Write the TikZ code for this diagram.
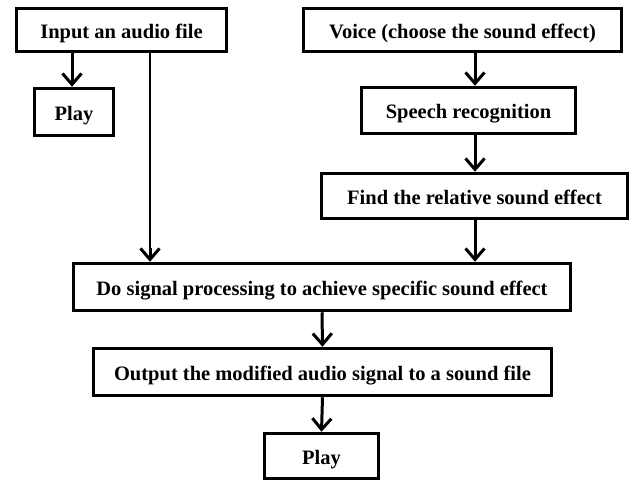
\documentclass[tikz,border=0pt]{standalone}
\usepackage{fontspec}
\setmainfont{Liberation Serif}
\usetikzlibrary{arrows.meta}
\tikzset{
  box/.style={draw=black, line width=3.5pt, fill=white, inner sep=0pt, align=center,
    text height=16pt, text depth=0pt,
    font=\fontsize{20.5}{24}\selectfont\bfseries},
  flow/.style={line width=3pt, -{Straight Barb[length=11pt,width=19pt,line width=3pt]}},
  thinflow/.style={line width=2pt}
}
\begin{document}
\begin{tikzpicture}[x=1pt,y=-1pt]
\useasboundingbox (0,0) rectangle (631,485);
\node[box, minimum width=210pt, minimum height=43pt] (input) at (121.5,30) {Input an audio file};
\node[box, minimum width=79pt, minimum height=47pt] (play1) at (74,112) {Play};
\node[box, minimum width=318pt, minimum height=43pt] (voice) at (462.5,30) {Voice (choose the sound effect)};
\node[box, minimum width=214pt, minimum height=46pt] (speech) at (468.5,110.5) {Speech recognition};
\node[box, minimum width=306pt, minimum height=45pt] (find) at (474.5,196) {Find the relative sound effect};
\node[box, minimum width=497pt, minimum height=47pt] (do) at (322,287) {Do signal processing to achieve specific sound effect};
\node[box, minimum width=458pt, minimum height=47pt] (out) at (322.5,372) {Output the modified audio signal to a sound file};
\node[box, minimum width=114pt, minimum height=45pt] (play2) at (321.5,456) {Play};
\coordinate (cl) at (150,0);
\coordinate (cr) at (475,0);
\coordinate (cp) at (72,0);
\draw[flow] (input.south -| cp) -- (play1.north -| cp);
\draw[thinflow] (input.south -| cl) -- ([yshift=10pt]do.north -| cl);
\draw[flow] ([yshift=14pt]do.north -| cl) -- (do.north -| cl);
\draw[flow] (voice.south -| cr) -- (speech.north -| cr);
\draw[flow] (speech.south -| cr) -- (find.north -| cr);
\draw[flow] (find.south -| cr) -- (do.north -| cr);
\draw[flow] (do.south) -- (out.north);
\draw[flow] (out.south) -- (play2.north);
\end{tikzpicture}
\end{document}
